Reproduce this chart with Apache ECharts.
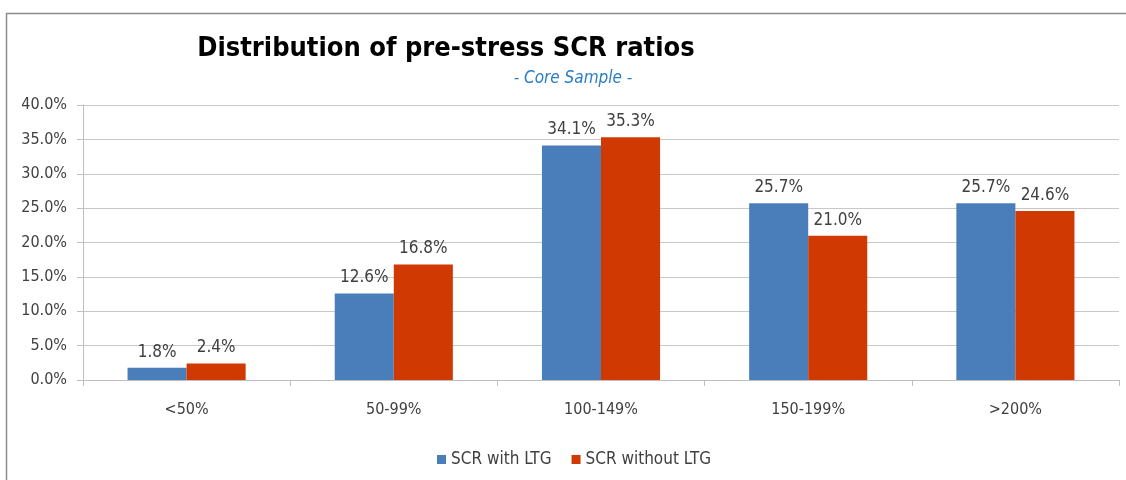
<!doctype html>
<html>
    <head>
        <meta charset="utf-8">
        <title>Distribution of pre-stress SCR ratios</title>
        <style>
            html, body { margin: 0; padding: 0; background: #fff; }
            #main { width: 1126px; height: 480px; }
        </style>
    </head>
    <body>
        <div id="main"></div>
        <script src="https://cdn.jsdelivr.net/npm/echarts@6/dist/echarts.min.js"></script>
        <script>
            var categories = ['<50%', '50-99%', '100-149%', '150-199%', '>200%'];
            var withLTG = [1.8, 12.6, 34.1, 25.7, 25.7];
            var withoutLTG = [2.4, 16.8, 35.3, 21.0, 24.6];
            var yTicks = [0, 5, 10, 15, 20, 25, 30, 35, 40];

            var font = '"DejaVu Sans Condensed", "Open Sans", sans-serif';
            var chart = echarts.init(document.getElementById('main'), null, {
                devicePixelRatio: 1
            });

            var pctLabel = {
                show: true,
                position: 'top',
                distance: 7,
                fontFamily: font,
                fontSize: 17,
                color: '#404040',
                formatter: function (p) { return p.value.toFixed(1) + '%'; }
            };

            chart.setOption({
                animation: false,
                title: [{
                    text: 'Distribution of pre-stress SCR ratios',
                    left: 441,
                    top: 30,
                    textAlign: 'center',
                    textStyle: {
                        fontFamily: font,
                        fontSize: 27,
                        fontWeight: 'bold',
                        color: '#000'
                    }
                }, {
                    text: '- Core Sample -',
                    left: 568,
                    top: 65,
                    textAlign: 'center',
                    textStyle: {
                        fontFamily: font,
                        fontSize: 17,
                        fontStyle: 'italic',
                        fontWeight: 'normal',
                        color: '#2a7cc4'
                    }
                }],
                graphic: [{
                    type: 'polyline',
                    shape: { points: [[6.5, 480], [6.5, 13.5], [1126, 13.5]] },
                    style: { stroke: '#8c8c8c', lineWidth: 1.5, fill: null },
                    silent: true
                }],
                legend: {
                    left: 432,
                    top: 446,
                    itemWidth: 9,
                    itemHeight: 9,
                    itemGap: 20,
                    icon: 'rect',
                    textStyle: { fontFamily: font, fontSize: 17, color: '#404040' },
                    data: ['SCR with LTG', 'SCR without LTG']
                },
                grid: { left: 83, right: 7, top: 105, bottom: 100 },
                xAxis: {
                    type: 'category',
                    data: categories,
                    axisLine: { lineStyle: { color: '#bfbfbf' } },
                    axisTick: { show: true, length: 6, lineStyle: { color: '#bfbfbf' } },
                    axisLabel: { margin: 22, fontFamily: font, fontSize: 16, color: '#404040' }
                },
                yAxis: {
                    type: 'value',
                    min: yTicks[0],
                    max: yTicks[yTicks.length - 1],
                    interval: 5,
                    axisLine: { show: true, lineStyle: { color: '#bfbfbf' } },
                    axisTick: { show: true, length: 6, lineStyle: { color: '#bfbfbf' } },
                    axisLabel: {
                        margin: 16,
                        fontFamily: font,
                        fontSize: 16,
                        color: '#404040',
                        formatter: function (v) { return v.toFixed(1) + '%'; }
                    },
                    splitLine: { lineStyle: { color: '#c8c8c8' } }
                },
                series: [{
                    name: 'SCR with LTG',
                    type: 'bar',
                    data: withLTG,
                    barGap: '0%',
                    barCategoryGap: '43%',
                    itemStyle: { color: '#4a7ebb' },
                    label: pctLabel
                }, {
                    name: 'SCR without LTG',
                    type: 'bar',
                    data: withoutLTG,
                    itemStyle: { color: '#d03a02' },
                    label: pctLabel
                }]
            });

            window.onresize = chart.resize;
        </script>
    </body>
</html>
